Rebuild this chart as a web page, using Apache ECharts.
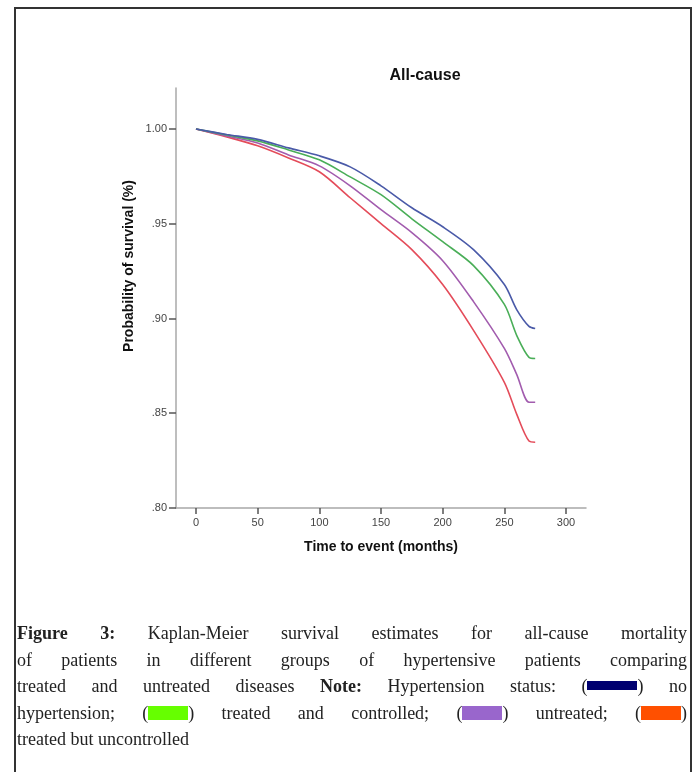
<!DOCTYPE html>
<html>
<head>
<meta charset="utf-8">
<script src="https://cdn.jsdelivr.net/npm/echarts@6/dist/echarts.min.js"></script>
<style>
html, body { margin: 0; padding: 0; background: #fff; }
#chart { position: absolute; left: 0; top: 0; width: 697px; height: 772px; }
.frame {
	position: absolute; left: 14px; top: 7px; width: 674px; height: 800px;
	border: 2px solid #333; border-bottom: none; pointer-events: none;
}
.caption {
	position: absolute; left: 17px; top: 620px; width: 670px;
	font-family: "Liberation Serif", "DejaVu Serif", serif; font-size: 18px;
	line-height: 26.5px; color: #222;
}
.caption .ln { text-align: justify; text-align-last: justify; }
.caption .ln.last { text-align: left; text-align-last: left; }
.sw { display: inline-block; width: 40px; height: 14px; vertical-align: -1px; }
.sw.navy { width: 50px; height: 9px; vertical-align: 2px; background: #000070; }
.sw.green { background: #66ff00; }
.sw.purple { background: #9966cc; }
.sw.orange { background: #ff5000; }
</style>
</head>
<body>
<div id="chart"></div>
<div class="frame"></div>
<div class="caption">
	<div class="ln"><b>Figure 3:</b> Kaplan-Meier survival estimates for all-cause mortality</div>
	<div class="ln">of patients in different groups of hypertensive patients comparing</div>
	<div class="ln">treated and untreated diseases <b>Note:</b> Hypertension status: (<span class="sw navy"></span>) no</div>
	<div class="ln">hypertension; (<span class="sw green"></span>) treated and controlled; (<span class="sw purple"></span>) untreated; (<span class="sw orange"></span>)</div>
	<div class="ln last">treated but uncontrolled</div>
</div>
<script>
// time to event (months) and survival estimates per group
const times = [0, 25, 50, 75, 100, 125, 150, 175, 200, 225, 250, 260, 270, 275];
const noHypertension = [1.0, 0.9971, 0.9945, 0.9900, 0.9858, 0.9800, 0.9700, 0.9584, 0.9484, 0.9363, 0.9179, 0.9047, 0.8958, 0.8947];
const treatedControlled = [1.0, 0.9968, 0.9937, 0.9889, 0.9837, 0.9747, 0.9653, 0.9526, 0.9405, 0.9279, 0.9074, 0.8911, 0.8795, 0.8789];
const untreated = [1.0, 0.9963, 0.9926, 0.9863, 0.9805, 0.9700, 0.9574, 0.9453, 0.9305, 0.9089, 0.8842, 0.8705, 0.8558, 0.8558];
const treatedUncontrolled = [1.0, 0.9958, 0.9911, 0.9847, 0.9774, 0.9637, 0.9500, 0.9363, 0.9179, 0.8937, 0.8663, 0.8495, 0.8353, 0.8347];

const xTicks = [0, 50, 100, 150, 200, 250, 300];
const yTicks = [0.80, 0.85, 0.90, 0.95, 1.00];

const font = '"Liberation Sans", Arial, sans-serif';

function line(name, values, color) {
	return {
		name: name,
		type: 'line',
		data: times.map((t, i) => [t, values[i]]),
		showSymbol: false,
		smooth: 0.3,
		lineStyle: { color: color, width: 1.6 },
		itemStyle: { color: color },
		animation: false,
	};
}

const myChart = echarts.init(document.getElementById('chart'));
const option = {
	animation: false,
	grid: { left: 176, right: 111, top: 88, bottom: 264 },
	xAxis: {
		type: 'value',
		min: -16.2,
		max: 316.2,
		name: 'Time to event (months)',
		nameLocation: 'middle',
		nameGap: 32,
		nameTextStyle: { fontFamily: font, fontWeight: 'bold', fontSize: 14, color: '#111' },
		axisLine: { show: true, onZero: false, lineStyle: { color: '#a8a8a8', width: 1.5 } },
		axisTick: { show: true, customValues: xTicks, length: 6, lineStyle: { color: '#555', width: 1.5 } },
		axisLabel: { customValues: xTicks, margin: 9, fontFamily: font, fontSize: 11, color: '#444' },
		splitLine: { show: false },
	},
	yAxis: {
		type: 'value',
		min: 0.8,
		max: 1.0216,
		axisLine: { show: true, onZero: false, lineStyle: { color: '#a8a8a8', width: 1.5 } },
		axisTick: { show: true, customValues: yTicks, length: 7, lineStyle: { color: '#555', width: 1.5 } },
		axisLabel: {
			customValues: yTicks,
			margin: 9,
			fontFamily: font,
			fontSize: 11,
			color: '#444',
			formatter: (v) => (v >= 0.999 ? '1.00' : v.toFixed(2).replace(/^0/, '')),
		},
		splitLine: { show: false },
	},
	graphic: [
		{
			type: 'text',
			x: 425,
			y: 76,
			style: {
				text: 'All-cause',
				fontFamily: font, fontWeight: 'bold', fontSize: 16,
				fill: '#111', align: 'center', verticalAlign: 'middle',
			},
		},
		{
			type: 'text',
			x: 129,
			y: 266,
			rotation: Math.PI / 2,
			style: {
				text: 'Probability of survival (%)',
				fontFamily: font, fontWeight: 'bold', fontSize: 14,
				fill: '#111', align: 'center', verticalAlign: 'middle',
			},
		},
	],
	series: [
		line('treated but uncontrolled', treatedUncontrolled, '#e44c5a'),
		line('untreated', untreated, '#a25cae'),
		line('treated and controlled', treatedControlled, '#4aae58'),
		line('no hypertension', noHypertension, '#4a5aa8'),
	],
};
myChart.setOption(option);
</script>
</body>
</html>
